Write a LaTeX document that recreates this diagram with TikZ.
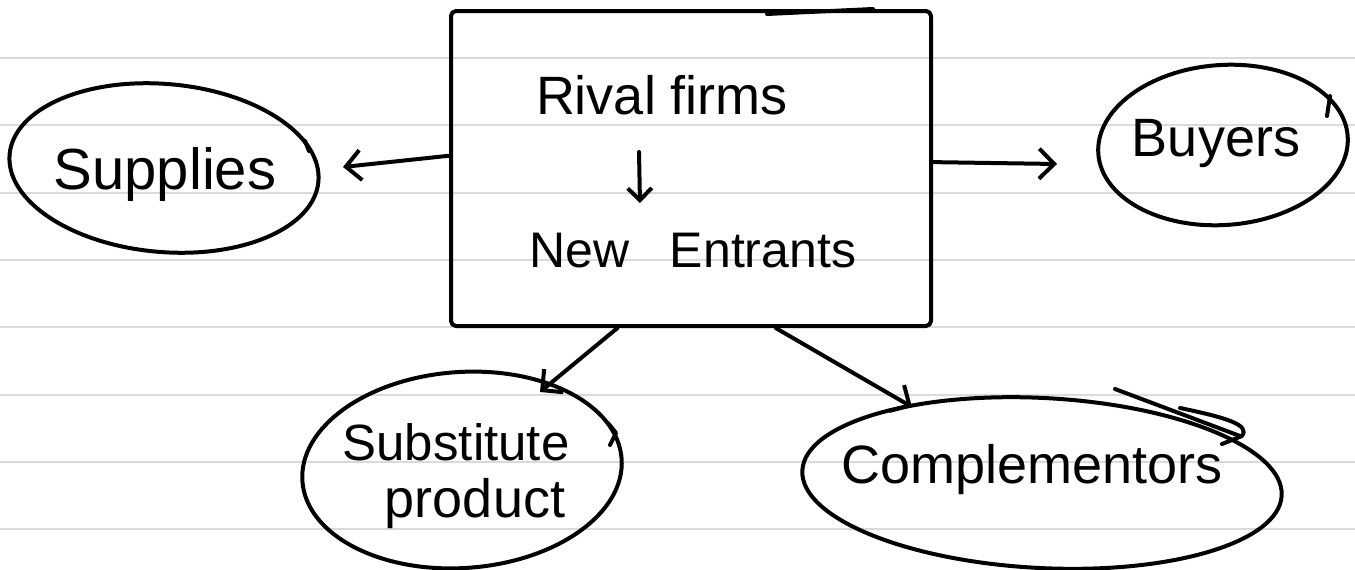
\documentclass[tikz,border=0pt]{standalone}
\usepackage{fontspec}
\setmainfont{Liberation Sans}
\usetikzlibrary{shapes.geometric,arrows.meta,calc}
\definecolor{rulegray}{HTML}{DADADA}
\begin{document}
\begin{tikzpicture}[x=1pt,y=-1pt,
  ink/.style={line width=4pt, line cap=round, line join=round, draw=black},
  arr/.style={ink, -{Straight Barb[length=15pt,width=30pt,line width=4pt]}},
  smallarr/.style={ink, -{Straight Barb[length=12pt,width=24pt,line width=4pt]}},
  ruled/.style={line width=1.8pt, draw=rulegray},
  oval/.style={ink, ellipse, inner sep=0pt},
  txt/.style={font=\fontsize{54}{60}\selectfont, inner sep=0pt, anchor=base},
]
% page
\useasboundingbox[fill=white] (0,0) rectangle (1355,570);
\foreach \yy in {58,125,193,260,327,395,462,529}
  \draw[ruled] (0,\yy) -- (1355,\yy);

% central box
\node[ink, rectangle, rounded corners=5pt, minimum width=480pt,
      minimum height=315pt, inner sep=0pt] (box) at (691,168.5) {};
\draw[ink] (767,14) -- (873,9);
\node[txt] (rival) at (662,114) {Rival firms};
\node[txt, font=\fontsize{50}{56}\selectfont] (new) at (693,267) {New\hspace{40pt}Entrants};
\draw[smallarr] ([xshift=-23pt,yshift=-38pt]rival.base) -- ([xshift=-53pt,yshift=64pt]new.base);

% surrounding forces
\node[oval, minimum width=310pt, minimum height=168pt, rotate=-5] (supE) at (164,168) {};
\node[txt, font=\fontsize{58}{64}\selectfont] (supT) at (165,189) {Supplies};
\draw[ink] (305,141) -- (309,151);

\node[oval, minimum width=250pt, minimum height=160pt, rotate=4] (buyE) at (1223,145) {};
\node[txt] (buyT) at (1216,156) {Buyers};
\draw[ink] (1330,96) -- (1327,116);

\node[oval, minimum width=320pt, minimum height=196pt, rotate=4] (subE) at (462,470) {};
\node[txt, font=\fontsize{51}{56}\selectfont] (subT) at (456,460) {Substitute};
\node[txt] (prodT) at (475,517) {product};
\draw[ink] (608,423) -- (616,433) -- (610,445);

\node[oval, minimum width=480pt, minimum height=170pt, rotate=-3] (compE) at (1042,483) {};
\node[txt] (compT) at (1032,483) {Complementors};
\draw[ink] (1115,389) -- (1240,436);
\draw[ink] (1180,408) .. controls (1228,418) and (1250,425) .. (1242,436) -- (1222,444);

% connectors
\coordinate (supIn) at (343,167);
\coordinate (buyIn) at (1057,164);
\coordinate (subIn) at (540,392);
\coordinate (compIn) at (912,407);
\draw[arr] ($(box.north west)!0.46!(box.south west)$) -- (supIn);
\draw[arr] ($(box.north east)!0.48!(box.south east)$) -- (buyIn);
\draw[arr] ($(box.south west)!0.348!(box.south east)$) -- (subIn);
\draw[arr] ($(box.south west)!0.675!(box.south east)$) -- (compIn);
\end{tikzpicture}
\end{document}
